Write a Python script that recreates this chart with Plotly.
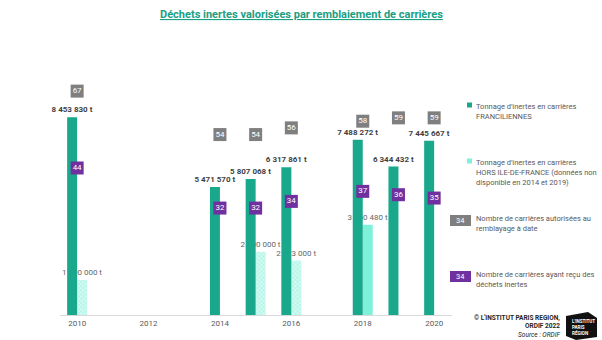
import plotly.graph_objects as go

# --- data -------------------------------------------------------------
years = [2010, 2014, 2015, 2016, 2018, 2019, 2020]
tonnage_idf = [8453830, 5471570, 5807068, 6317861, 7488272, 6344432, 7445667]

years_hors = [2010, 2015, 2016, 2018]
tonnage_hors = [1500000, 2700000, 2323000, 3860480]
hors_estimated = [True, True, True, False]   # hatched bars

nb_autorisees = [67, 54, 54, 56, 58, 59, 59]
nb_ayant_recu = [44, 32, 32, 34, 37, 36, 35]

tick_years = [2010, 2012, 2014, 2016, 2018, 2020]

# --- styling ----------------------------------------------------------
DARK = "#19a88b"
LIGHT = "#7ff0da"
GREY_BOX = "#7f7f7f"
PURPLE = "#7030a0"
FONT = "Liberation Sans Narrow, Roboto, sans-serif"

W, H = 602, 340
L, R, T, B = 60, 150, 40, 25
PW, PH = W - L - R, H - T - B


def px(x):
    return (x - L) / PW


def py(y):
    return (H - B - y) / PH


def fmt_t(v):
    return f"{v:,}".replace(",", " ") + " t"


BAR_W = 0.28

fig = go.Figure()

# bars outside Ile-de-France (drawn first so the regional bars sit above their labels)
fig.add_trace(go.Bar(
    x=years_hors, y=tonnage_hors,
    width=BAR_W, offset=0,
    marker=dict(
        color=LIGHT,
        line=dict(width=0),
        pattern=dict(
            shape=["x" if e else "" for e in hors_estimated],
            fgcolor=LIGHT, bgcolor="#dcfaf3", size=3, solidity=0.5,
        ),
    ),
    text=[fmt_t(v) for v in tonnage_hors],
    textposition="outside", textangle=0, constraintext="none",
    outsidetextfont=dict(family=FONT, size=8, color="#666666"),
    cliponaxis=False, showlegend=False,
))

# bars for quarries in Ile-de-France
fig.add_trace(go.Bar(
    x=years, y=tonnage_idf,
    width=BAR_W, offset=-BAR_W,
    marker=dict(color=DARK, line=dict(width=0)),
    text=[f"<b>{fmt_t(v)}</b>" for v in tonnage_idf],
    textposition="outside", textangle=0, constraintext="none",
    outsidetextfont=dict(family=FONT, size=8, color="#3f3f3f"),
    cliponaxis=False, showlegend=False,
))

# quarry counts as labelled boxes on a secondary scale
for counts, col in ((nb_autorisees, GREY_BOX), (nb_ayant_recu, PURPLE)):
    fig.add_trace(go.Scatter(
        x=years, y=counts, yaxis="y2",
        mode="markers+text",
        marker=dict(symbol="square", size=13, color=col, line=dict(width=0)),
        text=[str(c) for c in counts],
        textposition="middle center",
        textfont=dict(family=FONT, size=8, color="white"),
        cliponaxis=False, showlegend=False,
    ))

ann = []
shapes = []

# title
ann.append(dict(
    x=px(301), y=py(14), xref="paper", yref="paper",
    text="<b><u>Déchets inertes valorisées par remblaiement de carrières</u></b>",
    showarrow=False, font=dict(family=FONT, size=11, color="#1a9e84"),
    xanchor="center", yanchor="middle",
))

# legend
LEG_TXT = dict(family=FONT, size=7.5, color="#595959")
legend_rows = [
    (DARK, 105, "Tonnage d'inertes en carrières<br>FRANCILIENNES"),
    (LIGHT, 161, "Tonnage d'inertes en carrières<br>HORS ILE-DE-FRANCE (données non<br>disponible en 2014 et 2019)"),
]
for col, yc, txt in legend_rows:
    shapes.append(dict(type="rect", xref="paper", yref="paper",
                       x0=px(467), x1=px(472), y0=py(yc + 2.5), y1=py(yc - 2.5),
                       fillcolor=col, line=dict(width=0)))
    ann.append(dict(x=px(474), y=py(yc - 5), xref="paper", yref="paper",
                    text=txt, showarrow=False, font=LEG_TXT, align="left",
                    xanchor="left", yanchor="top"))

box_rows = [
    (GREY_BOX, 220.5, "Nombre de carrières autorisées au<br>remblayage à date"),
    (PURPLE, 276.5, "Nombre de carrières ayant reçu des<br>déchets inertes"),
]
for col, yc, txt in box_rows:
    shapes.append(dict(type="rect", xref="paper", yref="paper",
                       x0=px(450), x1=px(471), y0=py(yc + 5.5), y1=py(yc - 5.5),
                       fillcolor=col, line=dict(width=0)))
    ann.append(dict(x=px(460.5), y=py(yc), xref="paper", yref="paper",
                    text="34", showarrow=False,
                    font=dict(family=FONT, size=7.5, color="white"),
                    xanchor="center", yanchor="middle"))
    ann.append(dict(x=px(474), y=py(yc - 9), xref="paper", yref="paper",
                    text=txt, showarrow=False, font=LEG_TXT, align="left",
                    xanchor="left", yanchor="top"))

# credits
ann.append(dict(
    x=px(562), y=py(312), xref="paper", yref="paper",
    text="<b>© L'INSTITUT PARIS REGION,</b><br><b>ORDIF 2022</b><br><i>Source : ORDIF</i>",
    showarrow=False, align="right", xanchor="right", yanchor="top",
    font=dict(family=FONT, size=6.5, color="#262626"),
))

# institute logo
shapes.append(dict(
    type="path", xref="paper", yref="paper",
    path=(f"M {px(566)},{py(316)} L {px(588)},{py(312)} L {px(597)},{py(318)} "
          f"L {px(597)},{py(337)} L {px(576)},{py(340)} L {px(566)},{py(336)} Z"),
    fillcolor="#111111", line=dict(width=0),
))
ann.append(dict(
    x=px(570), y=py(317), xref="paper", yref="paper",
    text="<b>L'INSTITUT</b><br><b>PARIS</b><br><b>RÉGION</b>",
    showarrow=False, align="left", xanchor="left", yanchor="top",
    font=dict(family=FONT, size=4.5, color="white"),
))

fig.update_layout(
    width=W, height=H,
    margin=dict(l=L, r=R, t=T, b=B),
    paper_bgcolor="white", plot_bgcolor="white",
    barmode="overlay",
    xaxis=dict(
        range=[2009.52, 2020.5],
        tickmode="array", tickvals=tick_years, ticktext=[str(y) for y in tick_years],
        showgrid=False, zeroline=False,
        showline=True, linecolor="#d9d9d9", linewidth=1,
        ticks="", tickfont=dict(family=FONT, size=8, color="#595959"),
    ),
    yaxis=dict(range=[0, 11.75e6], visible=False, showgrid=False),
    yaxis2=dict(range=[0, 82.3], overlaying="y", visible=False, showgrid=False),
    annotations=ann,
    shapes=shapes,
    showlegend=False,
)

fig.write_html("out.html")
